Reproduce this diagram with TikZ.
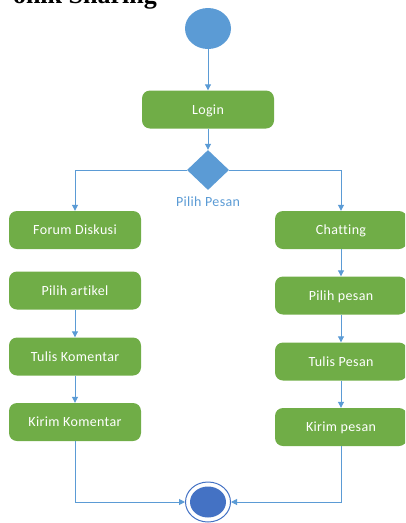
\documentclass[tikz,border=0pt]{standalone}
\usepackage{fontspec}
\setmainfont{Carlito}
\newfontfamily\titlefont{Liberation Serif}
\newfontfamily\labelfont[LetterSpace=2.5,Ligatures={NoCommon}]{Carlito}
\usetikzlibrary{arrows.meta,shapes.geometric}
\definecolor{actgreen}{HTML}{70AD47}
\definecolor{flowblue}{HTML}{5B9BD5}
\definecolor{endblue}{HTML}{4472C4}

\begin{document}
\begin{tikzpicture}[x=1pt,y=-1pt,
  action/.style={rectangle, rounded corners=8pt, fill=actgreen, text=white,
    minimum width=132pt, minimum height=38pt, inner sep=0pt,
    text height=9pt, text depth=0pt,
    font=\labelfont\fontsize{14}{16}\selectfont},
  flow/.style={draw=flowblue, line width=1pt, -{Triangle[length=6pt,width=6pt]}},
  ]
\useasboundingbox (0,0) rectangle (405,523);
\clip (0,0) rectangle (405,523);

% heading (partly outside the page)
\node[anchor=base east, inner sep=0pt, font=\titlefont\bfseries\fontsize{26}{28}\selectfont] (title) at (157,3) {onik Sharing};

% initial state
\node[ellipse, fill=flowblue, minimum width=46pt, minimum height=41pt, inner sep=0pt] (start) at (208,28.5) {};

\node[action] (login) at (208,109.5) {Login};

% decision
\node[diamond, fill=flowblue, minimum width=42pt, minimum height=40pt, inner sep=0pt] (dec) at (208,170) {};
\node[text=flowblue, font=\labelfont\fontsize{14}{16}\selectfont, inner sep=0pt,
  text height=9pt, text depth=0pt] (declabel) at (208,202) {Pilih Pesan};

% left branch
\node[action] (forum) at (75,230) {Forum Diskusi};
\node[action] (artikel) at (75,290.5) {Pilih artikel};
\node[action] (tuliskom) at (75,356.5) {Tulis Komentar};
\node[action] (kirimkom) at (75,422) {Kirim Komentar};

% right branch
\node[action] (chat) at (341,230) {Chatting};
\node[action] (pilihpesan) at (341,295.5) {Pilih pesan};
\node[action] (tulispesan) at (341,361.5) {Tulis Pesan};
\node[action] (kirimpesan) at (341,427) {Kirim pesan};

% final state
\node[ellipse, draw=endblue, line width=1pt, fill=white, minimum width=45pt, minimum height=40pt, inner sep=0pt] (end) at (208,502) {};
\node[ellipse, fill=endblue, minimum width=36pt, minimum height=31pt, inner sep=0pt] (endcore) at (end.center) {};

% flows
\draw[flow] (start) -- (login);
\draw[flow] (login) -- (dec);
\draw[flow] (dec.west) -| (forum.north);
\draw[flow] (dec.east) -| (chat.north);
\draw[flow] (artikel) -- (tuliskom);
\draw[flow] (tuliskom) -- (kirimkom);
\draw[flow] (chat) -- (pilihpesan);
\draw[flow] (pilihpesan) -- (tulispesan);
\draw[flow] (tulispesan) -- (kirimpesan);
\draw[flow] (kirimkom.south) |- (end.west);
\draw[flow] (kirimpesan.south) |- (end.east);
\end{tikzpicture}
\end{document}
